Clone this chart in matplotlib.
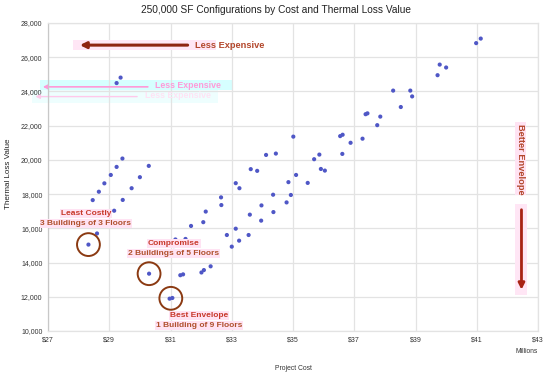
import matplotlib
matplotlib.use("Agg")
import matplotlib.pyplot as plt
from matplotlib.patches import Rectangle
from matplotlib.ticker import FuncFormatter

plt.rcParams['font.family'] = ['Liberation Sans', 'DejaVu Sans']

# project cost ($ millions) and thermal loss value
cost = [29.24, 29.37, 29.43, 29.24, 29.05, 28.84, 28.66, 28.46, 30.29, 30.00,
        29.73, 29.44, 29.16, 28.60, 28.32, 30.30, 30.97, 31.06, 28.89,
        31.16, 31.49, 31.67, 32.07, 32.15, 32.65, 32.66, 32.84, 33.00, 33.13,
        33.24, 33.13, 33.25, 33.59, 33.55, 33.97, 33.96, 34.35, 34.36, 31.32,
        31.41, 32.01, 32.09, 32.31, 31.11, 32.22,
        33.62, 33.83, 34.12, 34.44, 35.01, 35.10, 34.85, 35.48, 34.93, 34.79,
        35.69, 35.86, 35.91, 36.04, 36.54, 36.62, 36.88, 37.27, 36.61, 37.37,
        37.43, 37.85, 37.75, 38.27, 38.83, 38.89, 38.52, 39.72, 39.79, 40.00,
        40.98, 41.13]
thermal = [24490, 24810, 20080, 19590, 19120, 18630, 18140, 17650, 19650, 18990,
           18345, 17660, 17030, 15700, 15050, 13350, 11890, 11930, 16360,
           15350, 15380, 16140, 16360, 16980, 17810, 17360, 15610, 14930, 15980,
           15280, 18640, 18345, 16800, 15610, 17340, 16450, 17965, 16950, 13260,
           13310, 13420, 13560, 13780, 14680, 14650,
           19460, 19360, 20290, 20370, 21360, 19120, 18700, 18655, 17950, 17515,
           20040, 20310, 19470, 19375, 21390, 21470, 21000, 21240, 20350, 22670,
           22720, 22530, 22030, 24050, 24050, 23710, 23090, 24950, 25570, 25400,
           26825, 27090]

x_ticks = [27, 29, 31, 33, 35, 37, 39, 41, 43]
y_ticks = [10000, 12000, 14000, 16000, 18000, 20000, 22000, 24000, 26000, 28000]

# circled options
pick_cost = [28.32, 30.30, 31.01]
pick_loss = [15050, 13350, 11910]
pick_title = ['Least Costly', 'Compromise', 'Best Envelope']
pick_desc = ['3 Buildings of 3 Floors', '2 Buildings of 5 Floors', '1 Building of 9 Floors']
label_x = [28.24, 31.11, 31.93]
label_y = [16880, 15130, 10895]

fig = plt.figure(figsize=(5.5, 3.73), dpi=100)
ax = fig.add_axes([0.0873, 0.1126, 0.8909, 0.8257])

ax.set_xlim(27, 43)
ax.set_ylim(10000, 28000)
ax.set_xticks(x_ticks)
ax.set_yticks(y_ticks)
ax.xaxis.set_major_formatter(FuncFormatter(lambda v, p: '$%d' % v))
ax.yaxis.set_major_formatter(FuncFormatter(lambda v, p: '{:,.0f}'.format(v)))
ax.tick_params(length=0, labelsize=5, colors='#333333', pad=4)
ax.grid(True, color='#e3e3e3', lw=0.9)
ax.set_axisbelow(True)
for s in ax.spines.values():
    s.set_color('#e3e3e3')
    s.set_linewidth(0.9)
ax.spines['left'].set_color('#c8c8c8')

fig.text(276 / 550, 1 - 10 / 373, '250,000 SF Configurations by Cost and Thermal Loss Value',
         ha='center', va='center', fontsize=7.3, color='#222222')
ax.set_xlabel('Project Cost', fontsize=4.9, color='#333333')
ax.xaxis.set_label_coords(0.5, -0.11)
ax.set_ylabel('Thermal Loss Value', fontsize=5.8, color='#222222')
ax.yaxis.set_label_coords(-0.073, 0.51)
ax.text(1.0, -0.065, 'Millions', transform=ax.transAxes, ha='right', va='center',
        fontsize=4.8, color='#333333')

# faint ghost overlay at upper left
ax.add_patch(Rectangle((26.74, 24094), 6.27, 584, transform=ax.transData,
                       facecolor='#d6ffff', edgecolor='none', clip_on=False, zorder=0.3))
ax.add_patch(Rectangle((26.48, 23334), 6.07, 760, transform=ax.transData,
                       facecolor='#eefefe', edgecolor='none', clip_on=False, zorder=0.3))
ax.annotate('', xy=(26.74, 24269), xytext=(30.35, 24269),
            arrowprops=dict(arrowstyle='-|>', color='#ff9ad8', lw=1.2,
                            mutation_scale=6), annotation_clip=False, zorder=2)
ax.annotate('', xy=(26.5, 23700), xytext=(30.0, 23700),
            arrowprops=dict(arrowstyle='-|>', color='#ffc8ea', lw=1.0,
                            mutation_scale=6), annotation_clip=False, zorder=2)
ax.text(30.49, 24330, 'Less Expensive', fontsize=6.3, fontweight='bold',
        color='#ff9ad8', va='center', zorder=2)
ax.text(30.17, 23740, 'Less Expensive', fontsize=6.3, fontweight='bold',
        color='#ffe2f4', va='center', zorder=2)

ax.scatter(cost, thermal, s=9, color='#4f57c6', edgecolors='none', zorder=3)

# circles around the picked options
ax.scatter(pick_cost, pick_loss, s=270, facecolors='none', edgecolors='#8b3a12',
           linewidths=1.4, zorder=4)

pink = dict(facecolor='#ffe3f3', edgecolor='none', pad=0.6)
for i in range(3):
    ax.text(label_x[i], label_y[i], pick_title[i], ha='center', va='center',
            fontsize=6, fontweight='bold', color='#c8392b', bbox=pink, zorder=5)
    ax.text(label_x[i], label_y[i] - 585, pick_desc[i], ha='center', va='center',
            fontsize=6, fontweight='bold', color='#b0502c', bbox=pink, zorder=5)

# Less Expensive arrow
ax.add_patch(Rectangle((27.8, 26420), 4.7, 580, facecolor='#ffe6f5',
                       edgecolor='none', zorder=2))
ax.annotate('', xy=(27.95, 26708), xytext=(31.65, 26708),
            arrowprops=dict(arrowstyle='-|>', color='#8e2410', lw=2.2,
                            mutation_scale=9), zorder=5)
ax.text(31.8, 26708, 'Less Expensive', fontsize=6.7, fontweight='bold',
        color='#b3472b', va='center', zorder=5)

# Better Envelope arrow
ax.text(42.44, 20060, 'Better Envelope', rotation=-90, fontsize=6.7,
        fontweight='bold', color='#b3472b', ha='center', va='center',
        bbox=dict(facecolor='#ffe3f3', edgecolor='none', pad=0.8), zorder=5)
ax.add_patch(Rectangle((42.24, 12100), 0.4, 5300, facecolor='#ffe6f5',
                       edgecolor='none', zorder=2))
ax.annotate('', xy=(42.46, 12250), xytext=(42.46, 17250),
            arrowprops=dict(arrowstyle='-|>', color='#a82414', lw=2.0,
                            mutation_scale=9), zorder=5)

fig.savefig('out.png', dpi=100)
